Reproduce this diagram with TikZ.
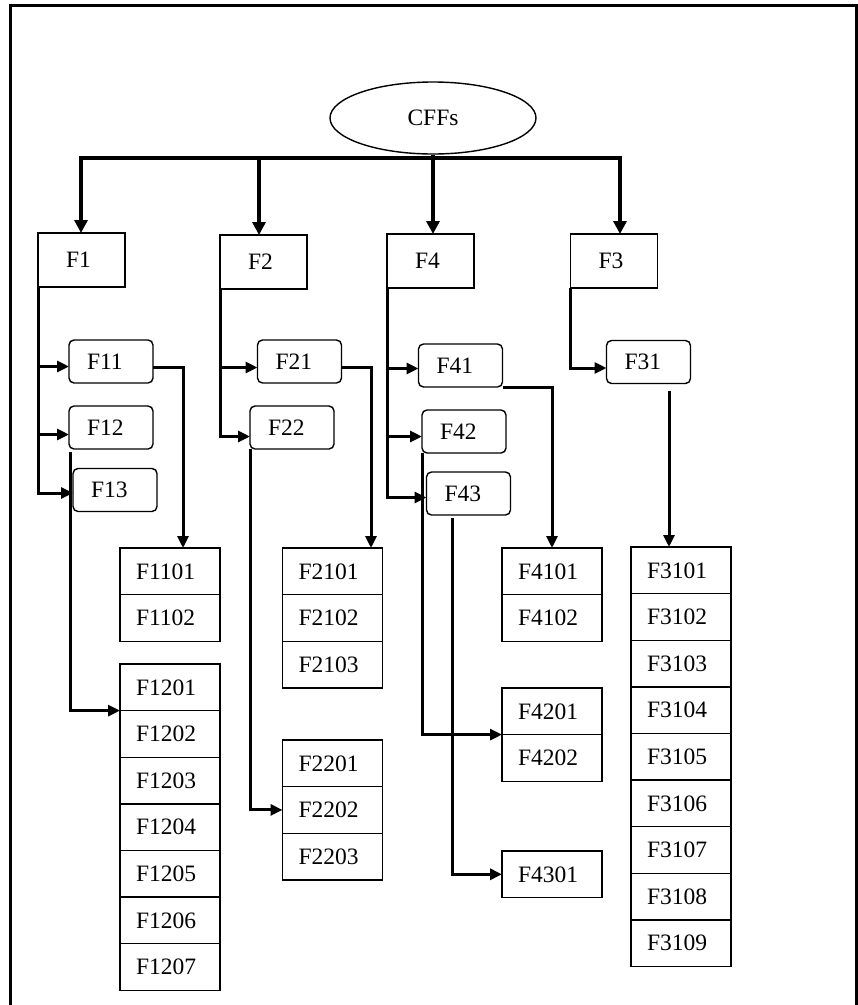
\documentclass[tikz,border=0pt]{standalone}
\usepackage{fontspec}
\setmainfont{Liberation Serif}
\usetikzlibrary{arrows.meta,shapes.geometric,positioning,calc}
\begin{document}
\begin{tikzpicture}[x=1pt,y=-1pt,
  every node/.style={font=\fontsize{23.5}{26}\selectfont},
  cell/.style={draw, line width=1.4pt, outer sep=0pt, minimum width=100pt, minimum height=46.6pt, inner xsep=16pt, inner ysep=0pt, text width=68pt, align=left},
  topbox/.style={draw, line width=1.4pt, outer sep=0pt, minimum width=87pt, minimum height=54pt, inner xsep=28pt, inner ysep=0pt, text width=31pt, align=left},
  subbox/.style={draw, line width=1.4pt, outer sep=0pt, rounded corners=5pt, minimum width=84pt, minimum height=43pt, inner xsep=18pt, inner ysep=0pt, text width=48pt, align=left},
  root/.style={draw, ellipse, line width=1.4pt, minimum width=206pt, minimum height=72pt, inner sep=0pt},
  bus/.style={line width=4pt},
  busarrow/.style={line width=4pt, -{Triangle[length=13pt,width=13pt]}},
  link/.style={line width=3pt, -{Triangle[length=12pt,width=11pt]}},
  frame/.style={line width=3pt}
]
\useasboundingbox (0,0) rectangle (858,1005);
\draw[frame] (10,1010) -- (10,5) -- (856,5) -- (856,1010);

% root and first level
\node[root] (CFFs) at (433,118) {CFFs};
\node[topbox] (F1) at (81.5,260) {F1};
\node[topbox] (F2) at (263.5,262) {F2};
\node[topbox] (F4) at (430.5,261) {F4};
\node[topbox] (F3) at (614,261) {F3};

\coordinate (j1) at (81,158);
\coordinate (j2) at (259,158);
\coordinate (j4) at (433,158);
\coordinate (j3) at (620,158);
\draw[bus] (CFFs.south) -- (CFFs.south |- j1);
\draw[busarrow] (j2) -- (j1) -- (j1 |- F1.north);
\draw[busarrow] (j2) -- (j3) -- (j3 |- F3.north);
\draw[busarrow] (j2) -- (j2 |- F2.north);
\draw[busarrow] (j4) -- (j4 |- F4.north);

% second level
\node[subbox] (F11) at (111,361.5) {F11};
\node[subbox] (F12) at (111,427.5) {F12};
\node[subbox] (F13) at (115,490) {F13};
\node[subbox] (F21) at (299.5,361.5) {F21};
\node[subbox] (F22) at (292,427.5) {F22};
\node[subbox] (F41) at (460.5,365.5) {F41};
\node[subbox] (F42) at (464,431.5) {F42};
\node[subbox] (F43) at (468.5,493.5) {F43};
\node[subbox] (F31) at (648.5,362) {F31};

\draw[link] (F1.south west) |- ($(F13.west)+(0,3)$);
\draw[link] ($(F1.south west |- F11.west)+(0,5)$) -- ($(F11.west)+(0,5)$);
\draw[link] ($(F1.south west |- F12.west)+(0,7)$) -- ($(F12.west)+(0,7)$);

\draw[link] (F2.south west) |- ($(F22.west)+(0,9)$);
\draw[link] ($(F2.south west |- F21.west)+(0,6)$) -- ($(F21.west)+(0,6)$);

\draw[link] (F4.south west) |- ($(F43.west)+(0,4)$);
\draw[link] ($(F4.south west |- F41.west)+(0,3)$) -- ($(F41.west)+(0,3)$);
\draw[link] ($(F4.south west |- F42.west)+(0,5)$) -- ($(F42.west)+(0,5)$);

\draw[link] (F3.south west) |- ($(F31.west)+(0,6)$);

% third level columns
\node[cell, anchor=north] (F1101) at (170,548) {F1101};
\node[cell, below=0pt of F1101] (F1102) {F1102};

\node[cell, anchor=north] (F1201) at (170,664) {F1201};
\node[cell, below=0pt of F1201] (F1202) {F1202};
\node[cell, below=0pt of F1202] (F1203) {F1203};
\node[cell, below=0pt of F1203] (F1204) {F1204};
\node[cell, below=0pt of F1204] (F1205) {F1205};
\node[cell, below=0pt of F1205] (F1206) {F1206};
\node[cell, below=0pt of F1206] (F1207) {F1207};

\node[cell, anchor=north] (F2101) at (332.5,548) {F2101};
\node[cell, below=0pt of F2101] (F2102) {F2102};
\node[cell, below=0pt of F2102] (F2103) {F2103};

\node[cell, anchor=north] (F2201) at (332.5,740) {F2201};
\node[cell, below=0pt of F2201] (F2202) {F2202};
\node[cell, below=0pt of F2202] (F2203) {F2203};

\node[cell, anchor=north] (F4101) at (552,548) {F4101};
\node[cell, below=0pt of F4101] (F4102) {F4102};

\node[cell, anchor=north] (F4201) at (552,688) {F4201};
\node[cell, below=0pt of F4201] (F4202) {F4202};

\node[cell, anchor=north] (F4301) at (552,851) {F4301};

\node[cell, anchor=north] (F3101) at (681,547) {F3101};
\node[cell, below=0pt of F3101] (F3102) {F3102};
\node[cell, below=0pt of F3102] (F3103) {F3103};
\node[cell, below=0pt of F3103] (F3104) {F3104};
\node[cell, below=0pt of F3104] (F3105) {F3105};
\node[cell, below=0pt of F3105] (F3106) {F3106};
\node[cell, below=0pt of F3106] (F3107) {F3107};
\node[cell, below=0pt of F3107] (F3108) {F3108};
\node[cell, below=0pt of F3108] (F3109) {F3109};

% third level connectors
\coordinate (x11) at (183,0);
\draw[link] ($(F11.east)+(0,6)$) -| (x11 |- F1101.north);
\draw[link] ($(F12.south west)+(1,3)$) |- (F1202.north west);

\coordinate (x21) at (371,0);
\draw[link] ($(F21.east)+(0,6)$) -| (x21 |- F2101.north);
\draw[link] (F22.south west) |- (F2202.west);

\coordinate (x41) at (552,0);
\draw[link] (F41.south east) -| (x41 |- F4101.north);
\draw[link] (F42.south west) |- (F4202.north west);
\draw[link] ($(F43.south)+(-16,3)$) |- (F4301.west);

\coordinate (s31) at ($(F31.south)+(20.5,7)$);
\draw[link] (s31) -- (s31 |- F3101.north);
\end{tikzpicture}
\end{document}
